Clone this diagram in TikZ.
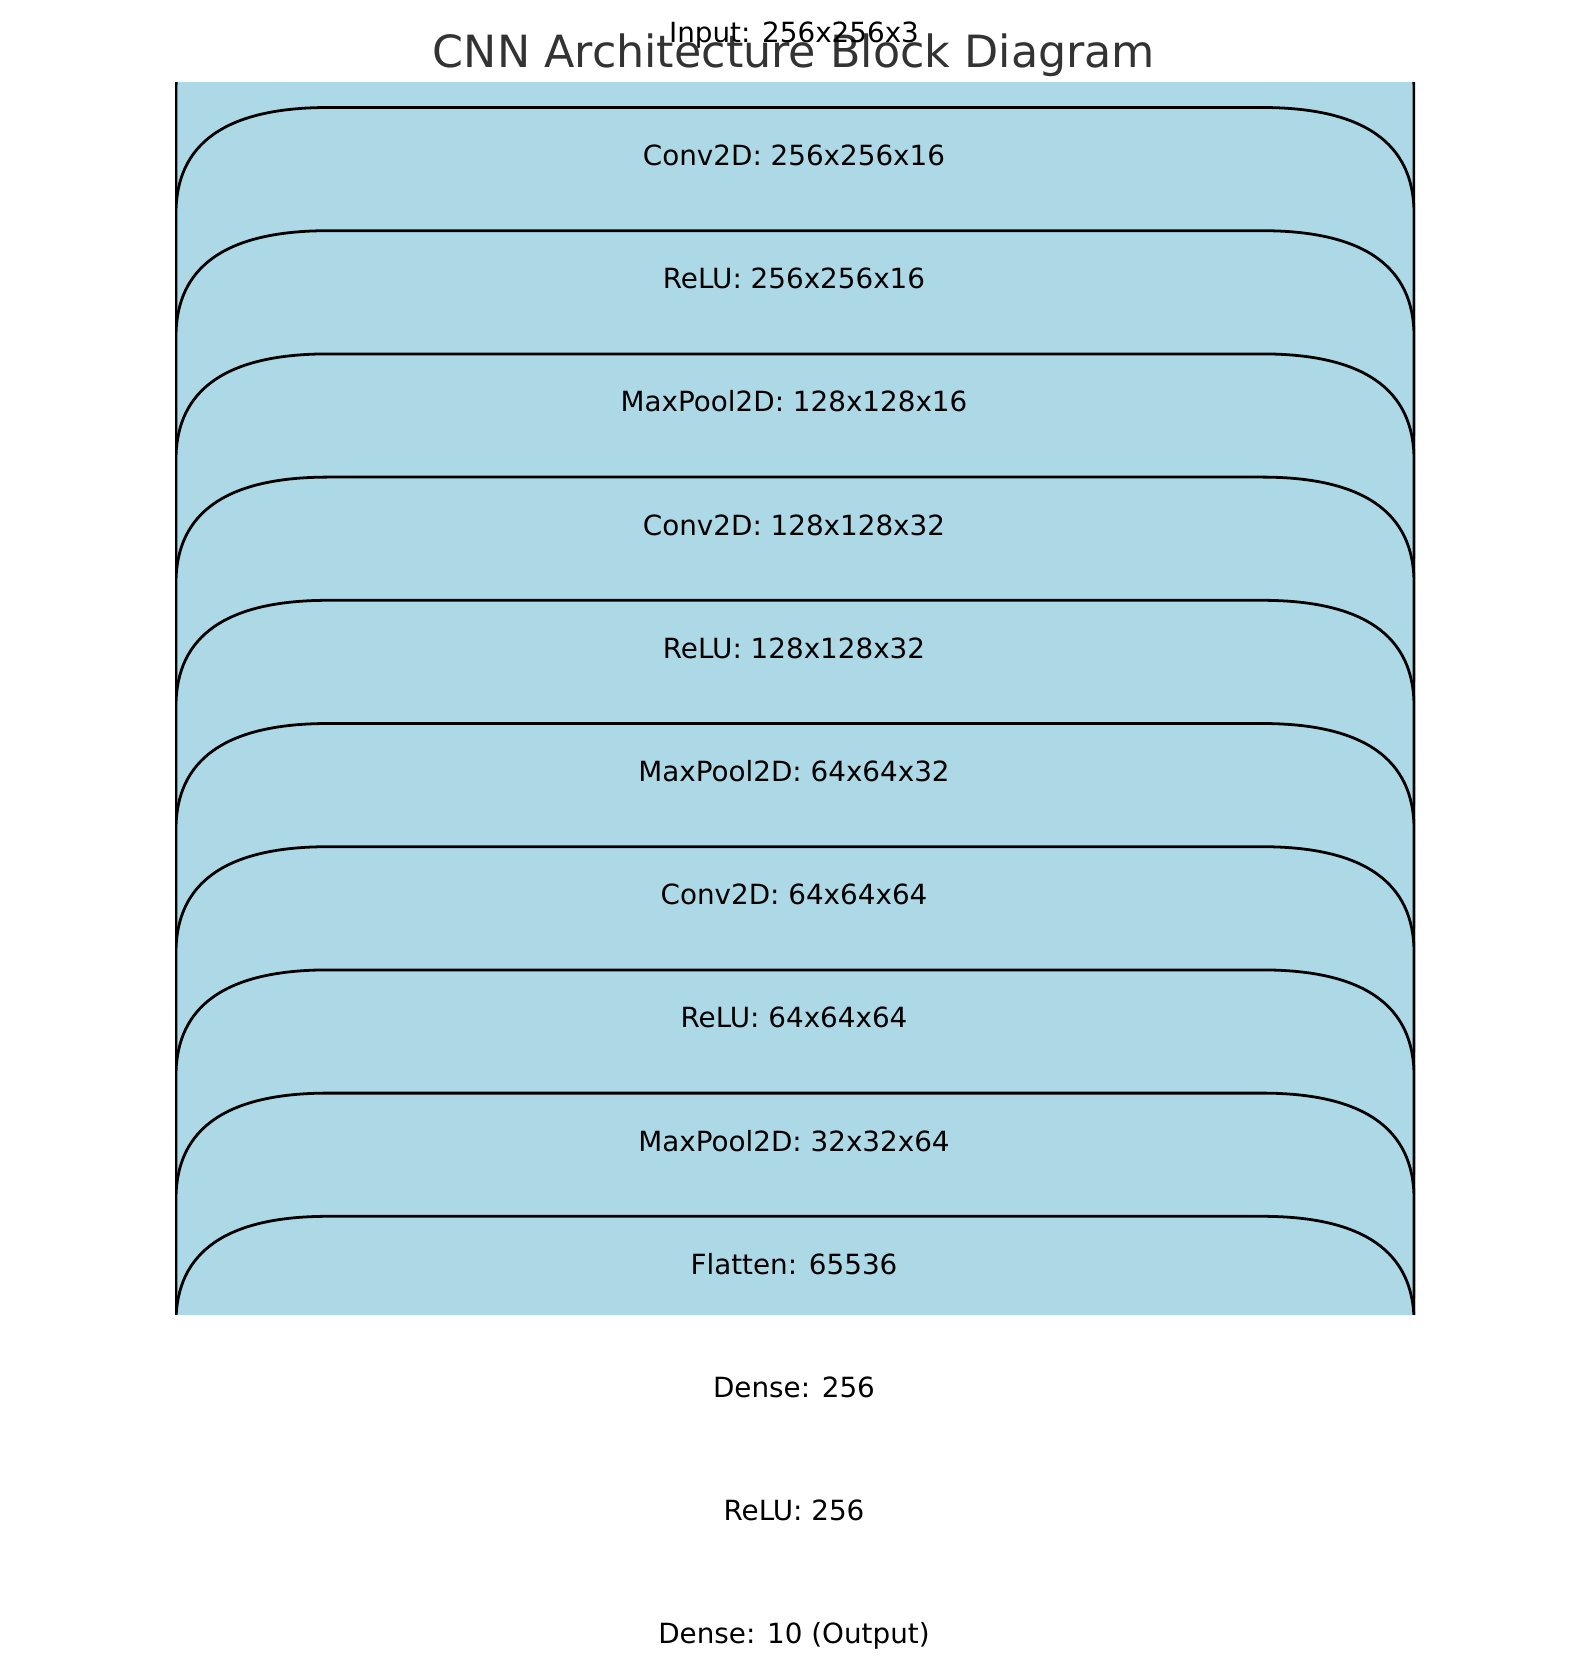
\documentclass[tikz,border=0pt]{standalone}
\usepackage{fontspec}
\setmainfont{DejaVu Sans}
\definecolor{boxblue}{HTML}{ADD8E6}
\definecolor{titlegray}{HTML}{333333}
\begin{document}
\begin{tikzpicture}[x=0.5pt,y=-0.5pt,
  layerbox/.style={fill=boxblue,draw=black,line width=1.39pt},
  layerlabel/.style={anchor=base,inner sep=0pt,font=\fontsize{13.9}{16}\selectfont},
  titlelabel/.style={anchor=base,inner sep=0pt,text=titlegray,font=\fontsize{22.2}{26}\selectfont}]
\useasboundingbox (0,0) rectangle (1589,1669);
\node[titlelabel] (title) at (794,68) {CNN Architecture Block Diagram};
\begin{scope}
  \clip (175,83) rectangle (1415,1314.5);
  \foreach \i in {0,...,13}{
    \pgfmathsetmacro\T{-15.7+123.2*\i}
    \pgfmathsetmacro\B{\T+450}
    \draw[layerbox] (176,\B) -- (176,\T+106)
      .. controls (176,\T+35.33) and (226.67,\T) .. (328,\T)
      -- (1262,\T)
      .. controls (1363.33,\T) and (1414,\T+35.33) .. (1414,\T+106)
      -- (1414,\B) -- cycle;
  }
\end{scope}
\node[layerlabel] (l0)  at (794,42.3)   {Input: 256x256x3};
\node[layerlabel] (l1)  at (794,165.5)  {Conv2D: 256x256x16};
\node[layerlabel] (l2)  at (794,288.7)  {ReLU: 256x256x16};
\node[layerlabel] (l3)  at (794,411.9)  {MaxPool2D: 128x128x16};
\node[layerlabel] (l4)  at (794,535.1)  {Conv2D: 128x128x32};
\node[layerlabel] (l5)  at (794,658.3)  {ReLU: 128x128x32};
\node[layerlabel] (l6)  at (794,781.5)  {MaxPool2D: 64x64x32};
\node[layerlabel] (l7)  at (794,904.7)  {Conv2D: 64x64x64};
\node[layerlabel] (l8)  at (794,1027.9) {ReLU: 64x64x64};
\node[layerlabel] (l9)  at (794,1151.1) {MaxPool2D: 32x32x64};
\node[layerlabel] (l10) at (794,1274.3) {Flatten: 65536};
\node[layerlabel] (l11) at (794,1397.5) {Dense: 256};
\node[layerlabel] (l12) at (794,1520.7) {ReLU: 256};
\node[layerlabel] (l13) at (794,1643.9) {Dense: 10 (Output)};
\end{tikzpicture}
\end{document}
